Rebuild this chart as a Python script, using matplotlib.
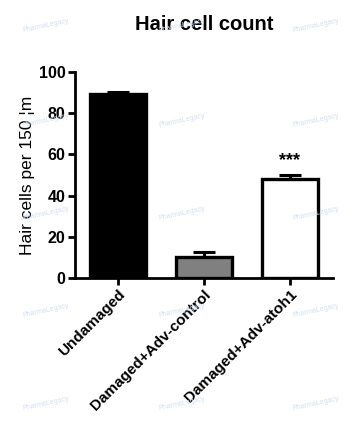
import numpy as np
import matplotlib
matplotlib.use('Agg')
import matplotlib.pyplot as plt

plt.rcParams['font.family'] = ['Liberation Sans', 'DejaVu Sans']

groups = ['Undamaged', 'Damaged+Adv-control', 'Damaged+Adv-atoh1']
means = [89.3, 10.2, 48.2]
errs = [1.1, 2.3, 2.0]
colors = ['black', '#808080', 'white']
stars = ['', '', '***']

fig = plt.figure(figsize=(3.63, 4.32), dpi=100)
ax = fig.add_axes([0.207, 0.357, 0.71, 0.476])

x = np.arange(len(groups))
ax.bar(x, means, width=0.66, color=colors, edgecolor='black', linewidth=2.4, zorder=2)
for xi, m, e in zip(x, means, errs):
    ax.errorbar(xi, m, yerr=[[0], [e]], color='black', capsize=8, capthick=2.2,
                elinewidth=2.2, zorder=3)
for xi, m, e, s in zip(x, means, errs, stars):
    if s:
        ax.text(xi, m + e + 2.5, s, ha='center', va='bottom', fontsize=13, fontweight='bold')

ax.set_xlim(-0.5, 2.5)
ax.set_ylim(0, 100)
ax.set_yticks([0, 20, 40, 60, 80, 100])
ax.set_xticks(x)
ax.set_xticklabels(groups, rotation=45, ha='right', rotation_mode='anchor',
                   fontsize=11, fontweight='bold')
for lab in ax.get_yticklabels():
    lab.set_fontweight('bold')
    lab.set_fontsize(11.5)
ax.tick_params(width=2, length=5, pad=2)
for side in ['top', 'right']:
    ax.spines[side].set_visible(False)
for side in ['left', 'bottom']:
    ax.spines[side].set_linewidth(2)
ax.set_ylabel('Hair cells per 150 \u00a6m', fontsize=12.5, labelpad=3)
ax.set_title('Hair cell count', fontsize=14.5, fontweight='bold', pad=30)

# faint watermarks
for wy in [0.94, 0.72, 0.505, 0.28, 0.065]:
    for wx in [0.125, 0.5, 0.87]:
        fig.text(wx, wy, 'PharmaLegacy', fontsize=5, color='#d3e0f2', rotation=12,
                 ha='center', va='center', zorder=0)

fig.savefig('out.png', dpi=100)
